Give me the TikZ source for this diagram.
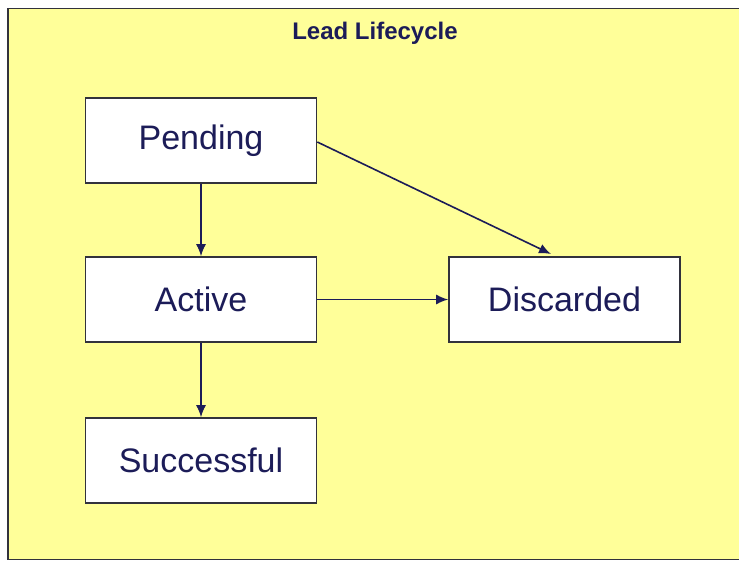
\documentclass[tikz,border=0pt]{standalone}
\usepackage{fontspec}
\setmainfont{Liberation Sans}
\usetikzlibrary{arrows.meta}

\definecolor{leadbg}{RGB}{255,255,153}
\definecolor{leadnavy}{RGB}{28,28,88}
\definecolor{leadedge}{RGB}{50,50,60}

\tikzset{
    state/.style={draw=leadedge, line width=1.6pt, fill=white,
        minimum width=231pt, minimum height=85pt, inner sep=0pt,
        font=\fontsize{34}{40}\selectfont, text=leadnavy},
    flow/.style={draw=leadnavy, line width=1.6pt,
        -{Latex[length=12pt,width=10pt]}}
}

\begin{document}
\begin{tikzpicture}[
        x=1pt,
        y=-1pt
    ]

    \useasboundingbox (0,0) rectangle (739,562);

    % Frame
    \draw[draw=leadedge, line width=1.8pt, fill=leadbg]
        (8,8.5) rectangle (745,559.5);
    \node[font=\bfseries\fontsize{24}{28}\selectfont, text=leadnavy]
        (title) at (375,33) {Lead Lifecycle};

    % States
    \node[state] (pending) at (201,140.5) {Pending};
    \node[state] (active) at (201,299.5) {Active};
    \node[state] (successful) at (201,460.5) {Successful};
    \node[state] (discarded) at (564.5,299.5) {Discarded};

    % Transitions
    \coordinate (dtop) at (551,254);
    \draw[flow] (pending.south) -- (active.north);
    \draw[flow] (active.south) -- (successful.north);
    \draw[flow] (active.east) -- (discarded.west);
    \draw[flow] (pending.east |- 0,142) -- (dtop);

\end{tikzpicture}
\end{document}
